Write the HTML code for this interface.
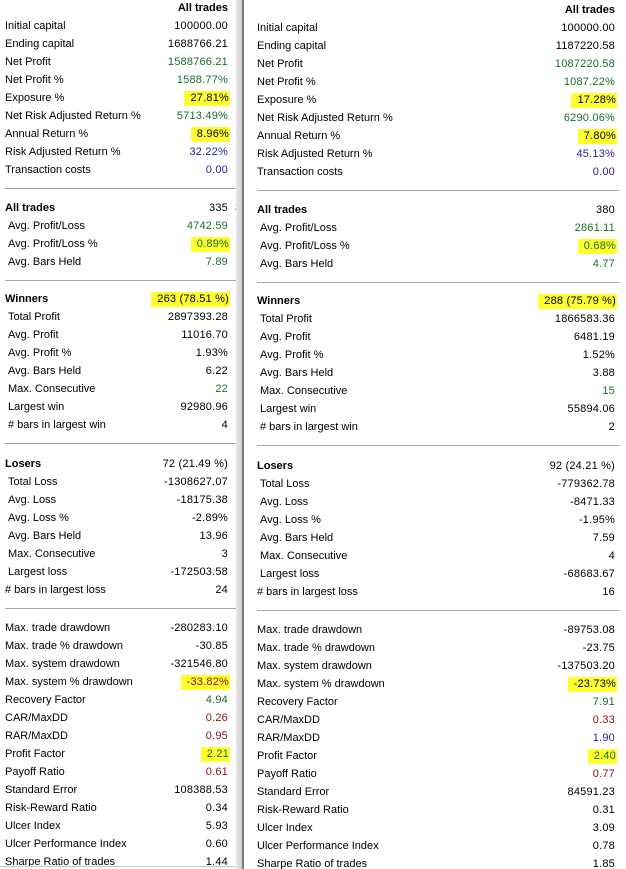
<!DOCTYPE html>
<html><head><meta charset="utf-8"><style>
body{margin:0;width:626px;height:869px;background:#fff;position:relative;overflow:hidden;font-family:"Liberation Sans",sans-serif;font-size:11px;color:#000}
.p{position:absolute;top:0;overflow:hidden}
.r{position:absolute;height:18px;line-height:18px;white-space:nowrap}
.l{position:absolute;left:0}
.v{position:absolute;right:0;letter-spacing:0.2px}
.b{font-weight:bold;letter-spacing:0}
.g{color:#17702a}.rd{color:#8b1010}.bl{color:#24249a}
.hl{background:#ffff30;padding:1px 1px 2px 6px;margin-right:-2px}
.sep{position:absolute;height:1px;background:#a8a8a8}
</style></head><body>
<div class="p" style="left:0;width:236px;height:866px;border-bottom:1px solid #c8c8c8">
<div style="position:absolute;left:5px;width:223px;top:1px;height:869px">
<div class="r" style="top:-2px;width:223px"><span class="v b">All trades</span></div>
<div class="r" style="top:16px;width:223px"><span class="l">Initial capital</span><span class="v">100000.00</span></div>
<div class="r" style="top:34px;width:223px"><span class="l">Ending capital</span><span class="v">1688766.21</span></div>
<div class="r" style="top:52px;width:223px"><span class="l">Net Profit</span><span class="v g">1588766.21</span></div>
<div class="r" style="top:70px;width:223px"><span class="l">Net Profit %</span><span class="v g">1588.77%</span></div>
<div class="r" style="top:88px;width:223px"><span class="l">Exposure %</span><span class="v"><span class="hl">27.81%</span></span></div>
<div class="r" style="top:106px;width:223px"><span class="l">Net Risk Adjusted Return %</span><span class="v g">5713.49%</span></div>
<div class="r" style="top:124px;width:223px"><span class="l">Annual Return %</span><span class="v"><span class="hl">8.96%</span></span></div>
<div class="r" style="top:142px;width:223px"><span class="l">Risk Adjusted Return %</span><span class="v bl">32.22%</span></div>
<div class="r" style="top:160px;width:223px"><span class="l">Transaction costs</span><span class="v bl">0.00</span></div>
<div class="sep" style="top:187px;left:0;width:240px"></div>
<div class="r" style="top:198px;width:223px"><span class="l b">All trades</span><span class="v">335</span></div>
<div class="r" style="top:216px;width:223px"><span class="l" style="left:3px">Avg. Profit/Loss</span><span class="v g">4742.59</span></div>
<div class="r" style="top:234px;width:223px"><span class="l" style="left:3px">Avg. Profit/Loss %</span><span class="v g"><span class="hl">0.89%</span></span></div>
<div class="r" style="top:252px;width:223px"><span class="l" style="left:3px">Avg. Bars Held</span><span class="v g">7.89</span></div>
<div class="sep" style="top:279px;left:0;width:240px"></div>
<div class="r" style="top:289px;width:223px"><span class="l b">Winners</span><span class="v"><span class="hl">263 (78.51 %)</span></span></div>
<div class="r" style="top:307px;width:223px"><span class="l" style="left:3px">Total Profit</span><span class="v">2897393.28</span></div>
<div class="r" style="top:325px;width:223px"><span class="l" style="left:3px">Avg. Profit</span><span class="v">11016.70</span></div>
<div class="r" style="top:343px;width:223px"><span class="l" style="left:3px">Avg. Profit %</span><span class="v">1.93%</span></div>
<div class="r" style="top:361px;width:223px"><span class="l" style="left:3px">Avg. Bars Held</span><span class="v">6.22</span></div>
<div class="r" style="top:379px;width:223px"><span class="l" style="left:3px">Max. Consecutive</span><span class="v g">22</span></div>
<div class="r" style="top:397px;width:223px"><span class="l" style="left:3px">Largest win</span><span class="v">92980.96</span></div>
<div class="r" style="top:415px;width:223px"><span class="l" style="left:3px"># bars in largest win</span><span class="v">4</span></div>
<div class="sep" style="top:442px;left:0;width:240px"></div>
<div class="r" style="top:454px;width:223px"><span class="l b">Losers</span><span class="v">72 (21.49 %)</span></div>
<div class="r" style="top:472px;width:223px"><span class="l" style="left:3px">Total Loss</span><span class="v">-1308627.07</span></div>
<div class="r" style="top:490px;width:223px"><span class="l" style="left:3px">Avg. Loss</span><span class="v">-18175.38</span></div>
<div class="r" style="top:508px;width:223px"><span class="l" style="left:3px">Avg. Loss %</span><span class="v">-2.89%</span></div>
<div class="r" style="top:526px;width:223px"><span class="l" style="left:3px">Avg. Bars Held</span><span class="v">13.96</span></div>
<div class="r" style="top:544px;width:223px"><span class="l" style="left:3px">Max. Consecutive</span><span class="v">3</span></div>
<div class="r" style="top:562px;width:223px"><span class="l" style="left:3px">Largest loss</span><span class="v">-172503.58</span></div>
<div class="r" style="top:580px;width:223px"><span class="l"># bars in largest loss</span><span class="v">24</span></div>
<div class="sep" style="top:607px;left:0;width:240px"></div>
<div class="r" style="top:618px;width:223px"><span class="l">Max. trade drawdown</span><span class="v">-280283.10</span></div>
<div class="r" style="top:636px;width:223px"><span class="l">Max. trade % drawdown</span><span class="v">-30.85</span></div>
<div class="r" style="top:654px;width:223px"><span class="l">Max. system drawdown</span><span class="v">-321546.80</span></div>
<div class="r" style="top:672px;width:223px"><span class="l">Max. system % drawdown</span><span class="v rd"><span class="hl">-33.82%</span></span></div>
<div class="r" style="top:690px;width:223px"><span class="l">Recovery Factor</span><span class="v g">4.94</span></div>
<div class="r" style="top:708px;width:223px"><span class="l">CAR/MaxDD</span><span class="v rd">0.26</span></div>
<div class="r" style="top:726px;width:223px"><span class="l">RAR/MaxDD</span><span class="v rd">0.95</span></div>
<div class="r" style="top:744px;width:223px"><span class="l">Profit Factor</span><span class="v g"><span class="hl">2.21</span></span></div>
<div class="r" style="top:762px;width:223px"><span class="l">Payoff Ratio</span><span class="v rd">0.61</span></div>
<div class="r" style="top:780px;width:223px"><span class="l">Standard Error</span><span class="v">108388.53</span></div>
<div class="r" style="top:798px;width:223px"><span class="l">Risk-Reward Ratio</span><span class="v">0.34</span></div>
<div class="r" style="top:816px;width:223px"><span class="l">Ulcer Index</span><span class="v">5.93</span></div>
<div class="r" style="top:834px;width:223px"><span class="l">Ulcer Performance Index</span><span class="v">0.60</span></div>
<div class="r" style="top:852px;width:223px"><span class="l">Sharpe Ratio of trades</span><span class="v">1.44</span></div>
</div>
<div class="r" style="top:199px;left:235px">3</div>
</div>
<div style="position:absolute;left:236px;top:0;width:6px;height:869px;background:linear-gradient(to right,#e8e8e8,#d0d0d0)"></div>
<div style="position:absolute;left:242px;top:0;width:2px;height:869px;background:#7a7a7a"></div>
<div class="p" style="left:244px;width:382px;height:869px">
<div style="position:absolute;left:13px;width:358px;top:3px;height:869px">
<div class="r" style="top:-2px;width:358px"><span class="v b">All trades</span></div>
<div class="r" style="top:16px;width:358px"><span class="l">Initial capital</span><span class="v">100000.00</span></div>
<div class="r" style="top:34px;width:358px"><span class="l">Ending capital</span><span class="v">1187220.58</span></div>
<div class="r" style="top:52px;width:358px"><span class="l">Net Profit</span><span class="v g">1087220.58</span></div>
<div class="r" style="top:70px;width:358px"><span class="l">Net Profit %</span><span class="v g">1087.22%</span></div>
<div class="r" style="top:88px;width:358px"><span class="l">Exposure %</span><span class="v"><span class="hl">17.28%</span></span></div>
<div class="r" style="top:106px;width:358px"><span class="l">Net Risk Adjusted Return %</span><span class="v g">6290.06%</span></div>
<div class="r" style="top:124px;width:358px"><span class="l">Annual Return %</span><span class="v"><span class="hl">7.80%</span></span></div>
<div class="r" style="top:142px;width:358px"><span class="l">Risk Adjusted Return %</span><span class="v bl">45.13%</span></div>
<div class="r" style="top:160px;width:358px"><span class="l">Transaction costs</span><span class="v bl">0.00</span></div>
<div class="sep" style="top:187px;left:0;width:362px"></div>
<div class="r" style="top:198px;width:358px"><span class="l b">All trades</span><span class="v">380</span></div>
<div class="r" style="top:216px;width:358px"><span class="l" style="left:3px">Avg. Profit/Loss</span><span class="v g">2861.11</span></div>
<div class="r" style="top:234px;width:358px"><span class="l" style="left:3px">Avg. Profit/Loss %</span><span class="v g"><span class="hl">0.68%</span></span></div>
<div class="r" style="top:252px;width:358px"><span class="l" style="left:3px">Avg. Bars Held</span><span class="v g">4.77</span></div>
<div class="sep" style="top:279px;left:0;width:362px"></div>
<div class="r" style="top:289px;width:358px"><span class="l b">Winners</span><span class="v"><span class="hl">288 (75.79 %)</span></span></div>
<div class="r" style="top:307px;width:358px"><span class="l" style="left:3px">Total Profit</span><span class="v">1866583.36</span></div>
<div class="r" style="top:325px;width:358px"><span class="l" style="left:3px">Avg. Profit</span><span class="v">6481.19</span></div>
<div class="r" style="top:343px;width:358px"><span class="l" style="left:3px">Avg. Profit %</span><span class="v">1.52%</span></div>
<div class="r" style="top:361px;width:358px"><span class="l" style="left:3px">Avg. Bars Held</span><span class="v">3.88</span></div>
<div class="r" style="top:379px;width:358px"><span class="l" style="left:3px">Max. Consecutive</span><span class="v g">15</span></div>
<div class="r" style="top:397px;width:358px"><span class="l" style="left:3px">Largest win</span><span class="v">55894.06</span></div>
<div class="r" style="top:415px;width:358px"><span class="l" style="left:3px"># bars in largest win</span><span class="v">2</span></div>
<div class="sep" style="top:442px;left:0;width:362px"></div>
<div class="r" style="top:454px;width:358px"><span class="l b">Losers</span><span class="v">92 (24.21 %)</span></div>
<div class="r" style="top:472px;width:358px"><span class="l" style="left:3px">Total Loss</span><span class="v">-779362.78</span></div>
<div class="r" style="top:490px;width:358px"><span class="l" style="left:3px">Avg. Loss</span><span class="v">-8471.33</span></div>
<div class="r" style="top:508px;width:358px"><span class="l" style="left:3px">Avg. Loss %</span><span class="v">-1.95%</span></div>
<div class="r" style="top:526px;width:358px"><span class="l" style="left:3px">Avg. Bars Held</span><span class="v">7.59</span></div>
<div class="r" style="top:544px;width:358px"><span class="l" style="left:3px">Max. Consecutive</span><span class="v">4</span></div>
<div class="r" style="top:562px;width:358px"><span class="l" style="left:3px">Largest loss</span><span class="v">-68683.67</span></div>
<div class="r" style="top:580px;width:358px"><span class="l"># bars in largest loss</span><span class="v">16</span></div>
<div class="sep" style="top:607px;left:0;width:362px"></div>
<div class="r" style="top:618px;width:358px"><span class="l">Max. trade drawdown</span><span class="v">-89753.08</span></div>
<div class="r" style="top:636px;width:358px"><span class="l">Max. trade % drawdown</span><span class="v">-23.75</span></div>
<div class="r" style="top:654px;width:358px"><span class="l">Max. system drawdown</span><span class="v">-137503.20</span></div>
<div class="r" style="top:672px;width:358px"><span class="l">Max. system % drawdown</span><span class="v"><span class="hl">-23.73%</span></span></div>
<div class="r" style="top:690px;width:358px"><span class="l">Recovery Factor</span><span class="v g">7.91</span></div>
<div class="r" style="top:708px;width:358px"><span class="l">CAR/MaxDD</span><span class="v rd">0.33</span></div>
<div class="r" style="top:726px;width:358px"><span class="l">RAR/MaxDD</span><span class="v bl">1.90</span></div>
<div class="r" style="top:744px;width:358px"><span class="l">Profit Factor</span><span class="v g"><span class="hl">2.40</span></span></div>
<div class="r" style="top:762px;width:358px"><span class="l">Payoff Ratio</span><span class="v rd">0.77</span></div>
<div class="r" style="top:780px;width:358px"><span class="l">Standard Error</span><span class="v">84591.23</span></div>
<div class="r" style="top:798px;width:358px"><span class="l">Risk-Reward Ratio</span><span class="v">0.31</span></div>
<div class="r" style="top:816px;width:358px"><span class="l">Ulcer Index</span><span class="v">3.09</span></div>
<div class="r" style="top:834px;width:358px"><span class="l">Ulcer Performance Index</span><span class="v">0.78</span></div>
<div class="r" style="top:852px;width:358px"><span class="l">Sharpe Ratio of trades</span><span class="v">1.85</span></div>
</div>
</div>
</body></html>
